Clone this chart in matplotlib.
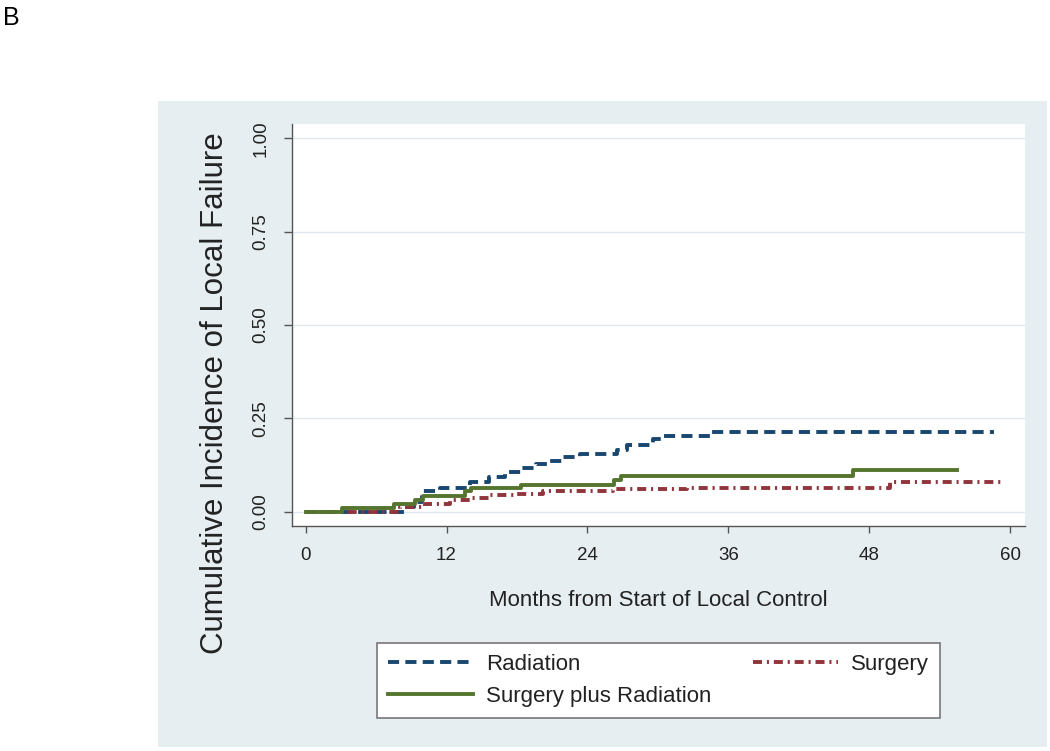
import matplotlib
matplotlib.use('Agg')
import matplotlib.pyplot as plt
from matplotlib.patches import Rectangle

plt.rcParams['font.family'] = ['Liberation Sans', 'DejaVu Sans']
plt.rcParams['lines.scale_dashes'] = False

# cumulative incidence of local failure
rad_months = [0, 8.4, 9.2, 9.9, 11.4, 14.0, 15.6, 17.0, 18.4, 19.6, 20.8,
              21.8, 23.4, 26.5, 27.4, 29.6, 30.3, 34.4, 58.6]
rad_cif = [0, 0.012, 0.027, 0.056, 0.065, 0.080, 0.093, 0.106, 0.116, 0.127,
           0.136, 0.146, 0.156, 0.165, 0.180, 0.196, 0.204, 0.214, 0.214]

sur_months = [0, 8.0, 10.2, 12.3, 14.0, 15.7, 18.0, 20.2, 26.2, 32.5, 49.8, 59.4]
sur_cif = [0, 0.012, 0.021, 0.031, 0.036, 0.045, 0.049, 0.056, 0.060, 0.065,
           0.080, 0.080]

spr_months = [0, 3.1, 7.5, 9.3, 10.0, 13.6, 14.1, 18.3, 26.3, 26.9, 46.6, 55.5]
spr_cif = [0, 0.010, 0.020, 0.031, 0.043, 0.056, 0.063, 0.072, 0.085, 0.097,
           0.113, 0.113]

x_ticks = [0, 12, 24, 36, 48, 60]
y_ticks = [0, 0.25, 0.50, 0.75, 1.00]
y_labels = ['0.00', '0.25', '0.50', '0.75', '1.00']

navy = '#1a476f'
maroon = '#90353b'
green = '#55752f'
panel = '#e7eef1'
grid = '#dde9ee'
axcol = '#555555'
txt = '#222222'

fig = plt.figure(figsize=(10.5, 7.51), dpi=100)
fig.patches.append(Rectangle((158 / 1050, 4 / 751), 889 / 1050, 646 / 751,
                             transform=fig.transFigure, facecolor=panel,
                             edgecolor='none', zorder=-10))

ax = fig.add_axes([291.7 / 1050, 1 - 526 / 751, 733.3 / 1050, 402.5 / 751])
ax.set_zorder(1)
ax.set_facecolor('white')

l_rad, = ax.plot(rad_months, rad_cif, drawstyle='steps-post', color=navy,
                 lw=2.8, dashes=(8, 4.5), label='Radiation')
l_sur, = ax.plot(sur_months, sur_cif, drawstyle='steps-post', color=maroon,
                 lw=2.8, dashes=(6.5, 3.5, 1.5, 3.5), label='Surgery')
l_spr, = ax.plot(spr_months, spr_cif, drawstyle='steps-post', color=green,
                 lw=2.8, label='Surgery plus Radiation')

ax.set_xlim(-1.19, 61.27)
ax.set_ylim(-0.038, 1.040)
ax.set_xticks(x_ticks)
ax.set_yticks(y_ticks)
ax.set_yticklabels(y_labels, rotation=90, va='center')
ax.tick_params(axis='x', length=5, width=1, color=axcol, pad=10,
               labelsize=13.5, labelcolor=txt)
ax.tick_params(axis='y', length=6, width=1, color=axcol, pad=10,
               labelsize=13.5, labelcolor=txt)
ax.yaxis.grid(True, color=grid, lw=1)
ax.set_axisbelow(True)
for s in ['top', 'right']:
    ax.spines[s].set_visible(False)
for s in ['left', 'bottom']:
    ax.spines[s].set_color(axcol)
    ax.spines[s].set_linewidth(1)

fig.text(658.4 / 1050, 1 - 601 / 751, 'Months from Start of Local Control',
         ha='center', va='center', fontsize=16, color=txt)
fig.text(215 / 1050, 1 - 393 / 751, 'Cumulative Incidence of Local Failure',
         ha='center', va='center', rotation=90, fontsize=22.5, color=txt)
fig.text(3 / 1050, 1 - 18 / 751, 'B', ha='left', va='center', fontsize=18)

leg = fig.legend([l_rad, l_spr, l_sur],
                 ['Radiation', 'Surgery plus Radiation', 'Surgery'],
                 loc='lower left', ncol=2, mode='expand',
                 bbox_to_anchor=(377 / 1050, 1 - 718 / 751, 563 / 1050, 75 / 751),
                 fontsize=16, frameon=True, fancybox=False, edgecolor='#777777',
                 framealpha=1, facecolor='white',
                 handlelength=3.8, handletextpad=0.6, labelspacing=0.5,
                 borderpad=0.5, borderaxespad=0)
leg.get_frame().set_linewidth(1.2)
for t in leg.get_texts():
    t.set_color(txt)

fig.savefig('out.png', dpi=100)
